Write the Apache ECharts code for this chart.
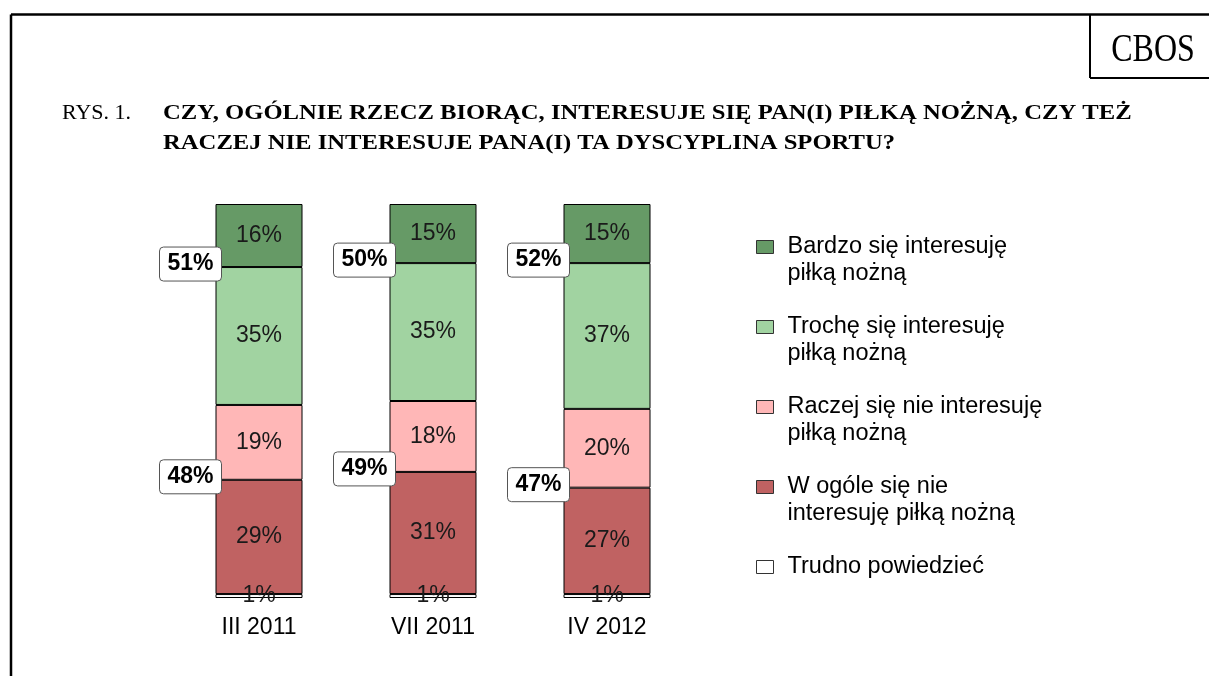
<!DOCTYPE html>
<html>
<head>
<meta charset="utf-8">
<script src="https://cdn.jsdelivr.net/npm/echarts@6/dist/echarts.min.js"></script>
<style>
  html, body { margin: 0; padding: 0; background: #fff; }
  #chart { width: 1209px; height: 676px; }
</style>
</head>
<body>
<div id="chart"></div>
<script>
// survey waves
const waves = ["III 2011", "VII 2011", "IV 2012"]

// answers, stacked bottom to top
const trudno = [1, 1, 1]
const wOgole = [29, 31, 27]
const raczejNie = [19, 18, 20]
const troche = [35, 35, 37]
const bardzo = [16, 15, 15]

// totals shown in the callouts
const interested = [51, 50, 52]
const notInterested = [48, 49, 47]

const names = [
  "Trudno powiedzieć",
  "W ogóle się nie interesuję piłką nożną",
  "Raczej się nie interesuję piłką nożną",
  "Trochę się interesuję piłką nożną",
  "Bardzo się interesuję piłką nożną"
]
// legend wraps the long names onto two lines
const legendLines = {
  "Bardzo się interesuję piłką nożną": ["Bardzo się interesuję", "piłką nożną"],
  "Trochę się interesuję piłką nożną": ["Trochę się interesuję", "piłką nożną"],
  "Raczej się nie interesuję piłką nożną": ["Raczej się nie interesuję", "piłką nożną"],
  "W ogóle się nie interesuję piłką nożną": ["W ogóle się nie", "interesuję piłką nożną"],
  "Trudno powiedzieć": ["Trudno powiedzieć"]
}
const colors = ["#ffffff", "#c06262", "#ffb7b7", "#a1d3a1", "#669a66"]
const values = [trudno, wOgole, raczejNie, troche, bardzo]

const SANS = "'Liberation Sans', Arial, sans-serif"
const SERIF = "'Liberation Serif', 'Times New Roman', serif"

// callout anchors: the top of "no interest" and the top of "a little interest"
const callouts = []
waves.forEach((_, i) => {
  const low = trudno[i] + wOgole[i]
  const high = low + raczejNie[i] + troche[i]
  callouts.push([i, high, interested[i] + "%"])
  callouts.push([i, low, notInterested[i] + "%"])
})

function renderCallout(params, api) {
  const p = api.coord([api.value(0), api.value(1)])
  const band = api.size([1, 0])[0]
  const right = p[0] - band * 0.25 + 6
  const w = 62
  const h = 34
  return {
    type: "rect",
    z2: 10,
    shape: { x: right - w, y: p[1] - h / 2 - 3, width: w, height: h, r: 4 },
    style: { fill: "#fff", stroke: "#555", lineWidth: 1 },
    textConfig: { position: "inside" },
    textContent: {
      style: {
        text: api.value(2),
        fill: "#000",
        font: "bold 23px " + SANS
      }
    }
  }
}

const chart = echarts.init(document.getElementById("chart"))

const barSeries = names.map((name, k) => ({
  name,
  type: "bar",
  stack: "all",
  barWidth: "50%",
  data: values[k],
  itemStyle: { color: colors[k], borderColor: "#000", borderWidth: 1 },
  label: {
    show: true,
    position: "inside",
    formatter: "{c}%",
    color: "#1a1a1a",
    fontFamily: SANS,
    fontSize: 23
  }
}))

// two-line entries get top padding so the first line sits level with the swatch
const legendData = names.slice().reverse().map((n) => ({
  name: n,
  textStyle: { padding: legendLines[n].length > 1 ? [27, 0, 0, 9] : [0, 0, 0, 9] }
}))

chart.setOption({
  animation: false,
  backgroundColor: "#fff",
  grid: { left: 172, right: 515, top: 204, bottom: 78 },
  xAxis: {
    type: "category",
    data: waves,
    axisLine: { show: false },
    axisTick: { show: false },
    axisLabel: { color: "#000", fontFamily: SANS, fontSize: 23, margin: 18 }
  },
  yAxis: { type: "value", min: 0, max: 100, show: false },
  legend: {
    orient: "vertical",
    left: 756,
    top: 235,
    padding: 0,
    itemGap: 29,
    itemWidth: 17,
    itemHeight: 13,
    icon: "rect",
    data: legendData,
    formatter: (n) => legendLines[n].map((s) => "{t|" + s + "}").join("\n"),
    itemStyle: { borderColor: "#333", borderWidth: 1 },
    textStyle: {
      color: "#000",
      fontFamily: SANS,
      fontSize: 23.5,
      rich: { t: { fontFamily: SANS, fontSize: 23.5, lineHeight: 27, color: "#000" } }
    }
  },
  graphic: [
    { type: "line", shape: { x1: 11, y1: 14.5, x2: 1209, y2: 14.5 }, style: { stroke: "#000", lineWidth: 2.5 } },
    { type: "line", shape: { x1: 11, y1: 14.5, x2: 11, y2: 676 }, style: { stroke: "#000", lineWidth: 2.5 } },
    { type: "line", shape: { x1: 1090, y1: 14.5, x2: 1090, y2: 78 }, style: { stroke: "#000", lineWidth: 2 } },
    { type: "line", shape: { x1: 1090, y1: 78, x2: 1209, y2: 78 }, style: { stroke: "#000", lineWidth: 2 } },
    {
      type: "text", x: 1153, y: 50, scaleX: 0.8,
      style: { text: "CBOS", font: "40px " + SERIF, fill: "#000", align: "center", verticalAlign: "middle" }
    },
    {
      type: "text", x: 62, y: 113,
      style: { text: "RYS. 1.", font: "22px " + SERIF, fill: "#000", verticalAlign: "middle" }
    },
    {
      type: "text", x: 163, y: 98, scaleX: 1.12,
      style: {
        text: "CZY, OGÓLNIE RZECZ BIORĄC, INTERESUJE SIĘ PAN(I) PIŁKĄ NOŻNĄ, CZY TEŻ\nRACZEJ NIE INTERESUJE PANA(I) TA DYSCYPLINA SPORTU?",
        font: "bold 22px " + SERIF,
        lineHeight: 30,
        fill: "#000",
        verticalAlign: "top"
      }
    }
  ],
  series: [
    ...barSeries,
    {
      type: "custom",
      name: "callouts",
      renderItem: renderCallout,
      data: callouts,
      z: 10
    }
  ]
})
</script>
</body>
</html>
